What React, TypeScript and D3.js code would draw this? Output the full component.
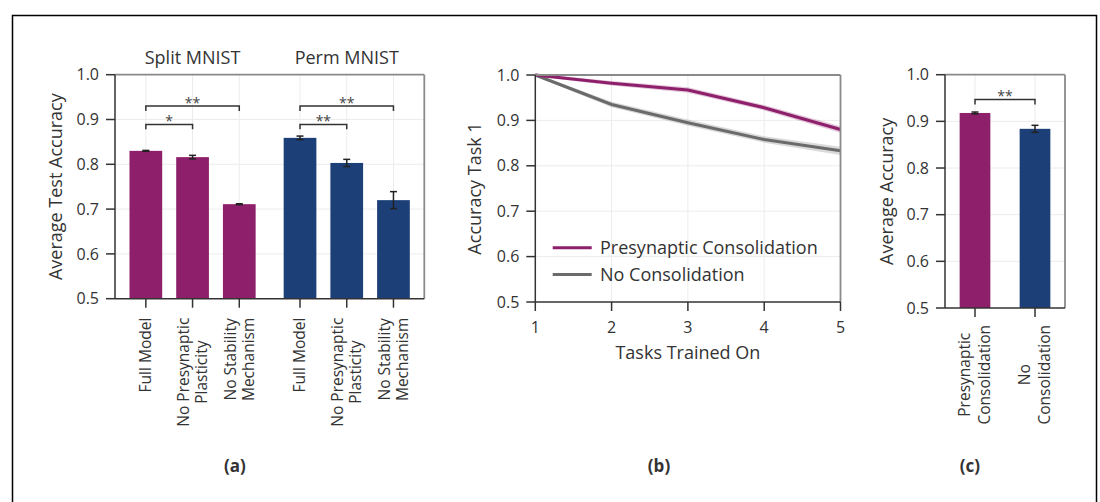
import React from "react";
import * as d3 from "d3";

// ---------- DATA ----------
const groupTitles = ["Split MNIST", "Perm MNIST"];
const ablationLabels = ["Full Model", "No Presynaptic\nPlasticity", "No Stability\nMechanism"];
const splitMeans = [0.83, 0.816, 0.711];
const splitErr = [0.001, 0.004, 0.001];
const permMeans = [0.859, 0.803, 0.72];
const permErr = [0.004, 0.008, 0.019];
const splitSig = [
  { a: 0, b: 1, label: "*", level: 0.889 },
  { a: 0, b: 2, label: "**", level: 0.93 },
];
const permSig = [
  { a: 0, b: 1, label: "**", level: 0.889 },
  { a: 0, b: 2, label: "**", level: 0.93 },
];

const tasks = [1, 2, 3, 4, 5];
const presynAcc = [1.0, 0.982, 0.967, 0.928, 0.88];
const presynSd = [0.001, 0.003, 0.004, 0.004, 0.005];
const noConsAcc = [1.0, 0.935, 0.895, 0.858, 0.833];
const noConsSd = [0.001, 0.004, 0.005, 0.005, 0.007];
const seriesNames = ["Presynaptic Consolidation", "No Consolidation"];

const consLabels = ["Presynaptic\nConsolidation", "No\nConsolidation"];
const consMeans = [0.918, 0.884];
const consErr = [0.002, 0.0075];
const consSig = [{ a: 0, b: 1, label: "**", level: 0.947 }];

const yTicks = [0.5, 0.6, 0.7, 0.8, 0.9, 1.0];

// ---------- STYLE ----------
const MAG = "#8e1f6b";
const BLUE = "#1c3f78";
const GRAY = "#6b6b6b";
const TXT = "#333333";
const FONT = "'Open Sans', 'Noto Sans', sans-serif";
const GRID = "#ececec";
const SPINE_DARK = "#333333";
const SPINE_LIGHT = "#8a8a8a";
const TICK_FS = 16;
const TITLE_FS = 18;

let _ctx: CanvasRenderingContext2D | null = null;
function textWidth(s: string, size: number) {
  if (!_ctx) {
    const c = document.createElement("canvas");
    _ctx = c.getContext("2d");
  }
  if (!_ctx) return s.length * size * 0.55;
  _ctx.font = `${size}px 'Open Sans'`;
  return _ctx.measureText(s).width;
}

function RotLabel({ x, top, text, size = 15.5, lh = 18 }: any) {
  const lines = text.split("\n");
  const W = Math.max(...lines.map((l: string) => textWidth(l, size)));
  const n = lines.length;
  return (
    <g transform={`translate(${x},${top}) rotate(-90)`}>
      {lines.map((l: string, i: number) => (
        <text
          key={i}
          x={-W / 2}
          y={(i - (n - 1) / 2) * lh}
          dy="0.35em"
          textAnchor="middle"
          fontSize={size}
          fill={TXT}
          fontFamily={FONT}
        >
          {l}
        </text>
      ))}
    </g>
  );
}

function Frame({ x0, x1, y0, y1 }: any) {
  return (
    <g>
      <line x1={x0} x2={x1} y1={y0} y2={y0} stroke={SPINE_LIGHT} strokeWidth={1.8} />
      <line x1={x1} x2={x1} y1={y0} y2={y1} stroke={SPINE_LIGHT} strokeWidth={1.8} />
      <line x1={x0} x2={x1} y1={y1} y2={y1} stroke={SPINE_DARK} strokeWidth={1.5} />
      <line x1={x0} x2={x0} y1={y0} y2={y1} stroke={SPINE_DARK} strokeWidth={1.5} />
    </g>
  );
}

function YAxis({ y, x0, x1, title, titleX }: any) {
  const [r0, r1] = y.range();
  return (
    <g>
      {yTicks.map((t) => (
        <g key={t}>
          {t > 0.5 && t < 1.0 && (
            <line x1={x0} x2={x1} y1={y(t)} y2={y(t)} stroke={GRID} strokeWidth={1} />
          )}
          <line x1={x0 - 9} x2={x0} y1={y(t)} y2={y(t)} stroke={SPINE_DARK} strokeWidth={1.5} />
          <text
            x={x0 - 16}
            y={y(t)}
            dy="0.35em"
            textAnchor="end"
            fontSize={TICK_FS}
            fill={TXT}
            fontFamily={FONT}
          >
            {d3.format(".1f")(t)}
          </text>
        </g>
      ))}
      <text
        transform={`translate(${titleX},${(r0 + r1) / 2}) rotate(-90)`}
        textAnchor="middle"
        dy="0.35em"
        fontSize={TITLE_FS}
        fill={TXT}
        fontFamily={FONT}
      >
        {title}
      </text>
    </g>
  );
}

function Bars({ x, y, pos, means, errs, color, barW }: any) {
  return (
    <g>
      {means.map((m: number, i: number) => {
        const cx = x(pos[i]);
        return (
          <g key={i}>
            <rect x={cx - barW / 2} y={y(m)} width={barW} height={y(0.5) - y(m)} fill={color} />
            <line x1={cx} x2={cx} y1={y(m - errs[i])} y2={y(m + errs[i])} stroke="#222" strokeWidth={1.5} />
            <line x1={cx - 3.5} x2={cx + 3.5} y1={y(m - errs[i])} y2={y(m - errs[i])} stroke="#222" strokeWidth={1.5} />
            <line x1={cx - 3.5} x2={cx + 3.5} y1={y(m + errs[i])} y2={y(m + errs[i])} stroke="#222" strokeWidth={1.5} />
          </g>
        );
      })}
    </g>
  );
}

function Sig({ x, y, pos, sigs }: any) {
  return (
    <g>
      {sigs.map((s: any, i: number) => {
        const xa = x(pos[s.a]);
        const xb = x(pos[s.b]);
        const yl = y(s.level);
        const yb = y(s.level - 0.011);
        return (
          <g key={i}>
            <path d={`M${xa},${yb}V${yl}H${xb}V${yb}`} fill="none" stroke="#333" strokeWidth={1.5} />
            <text x={(xa + xb) / 2} y={yl + 2} textAnchor="middle" fontSize={14} fill="#444" fontFamily={FONT}>
              {s.label}
            </text>
          </g>
        );
      })}
    </g>
  );
}

function PanelA() {
  const x0 = 115, x1 = 424.3, yTop = 74.7, yBot = 298.7;
  const pos = [0, 1, 2, 3.3, 4.3, 5.3];
  const x = d3.scaleLinear().domain([-0.66, 5.96]).range([x0, x1]);
  const y = d3.scaleLinear().domain([0.5, 1.0]).range([yBot, yTop]);
  const allLabels = [...ablationLabels, ...ablationLabels];
  return (
    <g>
      <YAxis y={y} x0={x0} x1={x1} title="Average Test Accuracy" titleX={56} />
      {pos.map((p, i) => (
        <line key={i} x1={x(p)} x2={x(p)} y1={yTop} y2={yBot} stroke={GRID} strokeWidth={1} />
      ))}
      <Bars x={x} y={y} pos={pos.slice(0, 3)} means={splitMeans} errs={splitErr} color={MAG} barW={32.7} />
      <Bars x={x} y={y} pos={pos.slice(3)} means={permMeans} errs={permErr} color={BLUE} barW={32.7} />
      <Sig x={x} y={y} pos={pos.slice(0, 3)} sigs={splitSig} />
      <Sig x={x} y={y} pos={pos.slice(3)} sigs={permSig} />
      <Frame x0={x0} x1={x1} y0={yTop} y1={yBot} />
      {pos.map((p, i) => (
        <g key={i}>
          <line x1={x(p)} x2={x(p)} y1={yBot} y2={yBot + 9} stroke={SPINE_DARK} strokeWidth={1.5} />
          <RotLabel x={x(p)} top={yBot + 19} text={allLabels[i]} />
        </g>
      ))}
      {groupTitles.map((t, g) => (
        <text
          key={t}
          x={x(pos[g * 3 + 1])}
          y={64}
          textAnchor="middle"
          fontSize={TITLE_FS}
          fill={TXT}
          fontFamily={FONT}
        >
          {t}
        </text>
      ))}
      <text x={235} y={466} dy="0.35em" textAnchor="middle" fontSize={17} fontWeight="bold" fill={TXT} fontFamily={FONT}>
        (a)
      </text>
    </g>
  );
}

function PanelB() {
  const x0 = 535.3, x1 = 840.5, yTop = 75, yBot = 302;
  const x = d3.scaleLinear().domain([1, 5]).range([x0, x1]);
  const y = d3.scaleLinear().domain([0.5, 1.0]).range([yBot, yTop]);
  const series = [
    { m: presynAcc, s: presynSd, c: MAG },
    { m: noConsAcc, s: noConsSd, c: GRAY },
  ];
  const line = d3.line<number>().x((_, i) => x(tasks[i])).y((v) => y(v));
  return (
    <g>
      <YAxis y={y} x0={x0} x1={x1} title="Accuracy Task 1" titleX={475} />
      {tasks.slice(1, -1).map((t) => (
        <line key={t} x1={x(t)} x2={x(t)} y1={yTop} y2={yBot} stroke={GRID} strokeWidth={1} />
      ))}
      {series
        .slice()
        .reverse()
        .map((sr, k) => {
          const area = d3
            .area<number>()
            .x((_, i) => x(tasks[i]))
            .y0((v, i) => y(v - sr.s[i] - 0.002))
            .y1((v, i) => y(v + sr.s[i] + 0.002));
          return (
            <g key={k}>
              <path d={area(sr.m) || ""} fill={sr.c} opacity={0.25} />
              <path d={line(sr.m) || ""} fill="none" stroke={sr.c} strokeWidth={3} />
            </g>
          );
        })}
      <Frame x0={x0} x1={x1} y0={yTop} y1={yBot} />
      {tasks.map((t) => (
        <g key={t}>
          <line x1={x(t)} x2={x(t)} y1={yBot} y2={yBot + 9} stroke={SPINE_DARK} strokeWidth={1.5} />
          <text x={x(t)} y={327} dy="0.35em" textAnchor="middle" fontSize={TICK_FS} fill={TXT} fontFamily={FONT}>
            {t}
          </text>
        </g>
      ))}
      <text x={(x0 + x1) / 2} y={353} dy="0.35em" textAnchor="middle" fontSize={TITLE_FS} fill={TXT} fontFamily={FONT}>
        Tasks Trained On
      </text>
      {seriesNames.map((n, i) => (
        <g key={n}>
          <line x1={552.7} x2={591.7} y1={247.7 + i * 26.7} y2={247.7 + i * 26.7} stroke={series[i].c} strokeWidth={3} />
          <text x={600} y={247.7 + i * 26.7} dy="0.35em" fontSize={TITLE_FS} fill={TXT} fontFamily={FONT}>
            {n}
          </text>
        </g>
      ))}
      <text x={659} y={466} dy="0.35em" textAnchor="middle" fontSize={17} fontWeight="bold" fill={TXT} fontFamily={FONT}>
        (b)
      </text>
    </g>
  );
}

function PanelC() {
  const x0 = 945, x1 = 1065, yTop = 74.7, yBot = 308;
  const pos = [0, 1];
  const x = d3.scaleLinear().domain([-0.5, 1.5]).range([x0, x1]);
  const y = d3.scaleLinear().domain([0.5, 1.0]).range([yBot, yTop]);
  return (
    <g>
      <YAxis y={y} x0={x0} x1={x1} title="Average Accuracy" titleX={887} />
      {pos.map((p) => (
        <line key={p} x1={x(p)} x2={x(p)} y1={yTop} y2={yBot} stroke={GRID} strokeWidth={1} />
      ))}
      <Bars x={x} y={y} pos={[0]} means={[consMeans[0]]} errs={[consErr[0]]} color={MAG} barW={30.7} />
      <Bars x={x} y={y} pos={[1]} means={[consMeans[1]]} errs={[consErr[1]]} color={BLUE} barW={30.7} />
      <Sig x={x} y={y} pos={pos} sigs={consSig} />
      <Frame x0={x0} x1={x1} y0={yTop} y1={yBot} />
      {pos.map((p) => (
        <g key={p}>
          <line x1={x(p)} x2={x(p)} y1={yBot} y2={yBot + 9} stroke={SPINE_DARK} strokeWidth={1.5} />
          <RotLabel x={x(p)} top={yBot + 17} text={consLabels[p]} lh={20} />
        </g>
      ))}
      <text x={970} y={466} dy="0.35em" textAnchor="middle" fontSize={17} fontWeight="bold" fill={TXT} fontFamily={FONT}>
        (c)
      </text>
    </g>
  );
}

export default function App() {
  return (
    <svg
      width={1100}
      height={502}
      style={{ position: "absolute", left: 0, top: 0, background: "#fff" }}
      fontFamily={FONT}
    >
      <rect x={0} y={0} width={1100} height={502} fill="#fff" />
      <rect x={12.5} y={15.5} width={1084} height={520} fill="none" stroke="#000" strokeWidth={1.5} />
      <PanelA />
      <PanelB />
      <PanelC />
    </svg>
  );
}
